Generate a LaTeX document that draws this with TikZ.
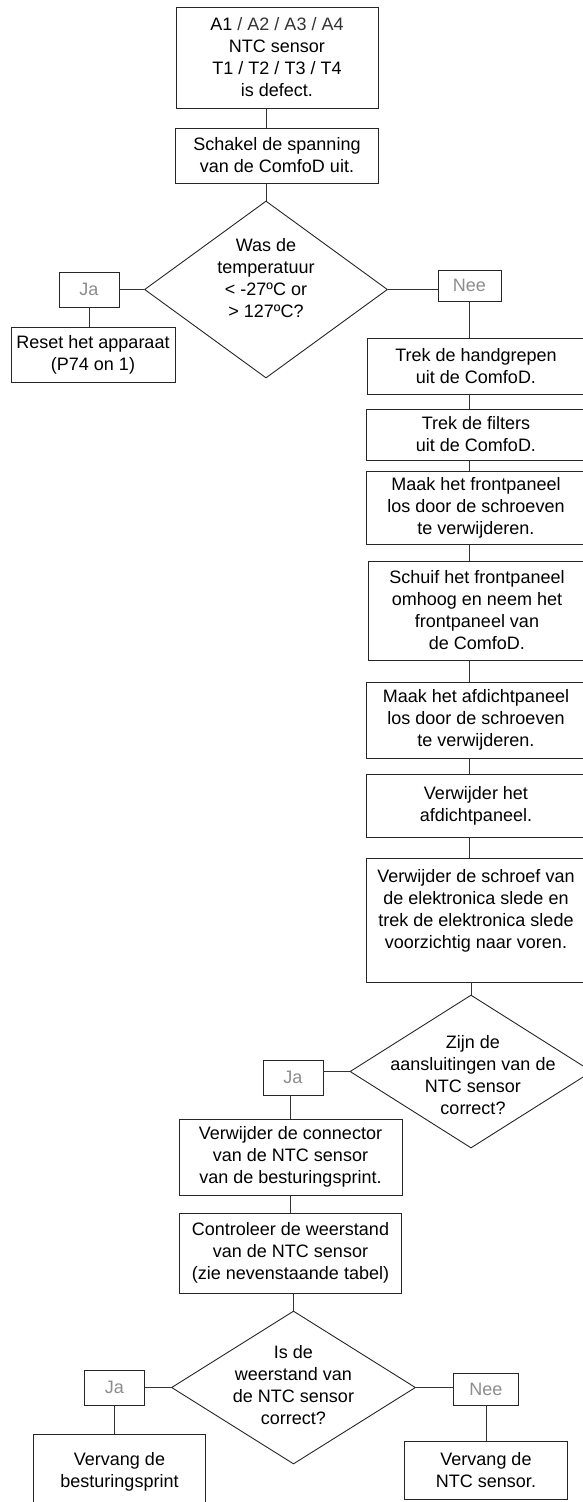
\documentclass[tikz,border=0pt]{standalone}
\usepackage{fontspec}
\setmainfont{Liberation Sans}
\usetikzlibrary{shapes.geometric}

\begin{document}
\begin{tikzpicture}[x=1pt, y=-1pt,
    block/.style={draw=black!85, rectangle, line width=0.9pt, inner sep=0pt, text centered, align=center, font=\fontsize{18}{22}\selectfont},
    answer/.style={block, text=black!45, minimum width=60pt, minimum height=35pt},
    decision/.style={draw=black!85, diamond, line width=0.9pt, inner sep=0pt, minimum width=243pt},
    qtext/.style={align=center, inner sep=0pt, font=\fontsize{18}{22}\selectfont},
    link/.style={draw=black!80, line width=0.9pt}]
    \useasboundingbox (0,0) rectangle (583,1502);

    \node[block, minimum width=202pt, minimum height=101pt] (defect) at (277,57.5) {A1 \textcolor{black!80}{/ A2 / A3 / A4}\\NTC sensor\\T1 / T2 / T3 / T4\\is defect.};
    \node[block, below of=defect, node distance=98pt, minimum width=203pt, minimum height=55pt] (power) {Schakel de spanning\\van de ComfoD uit.};
    \node[decision, below of=power, node distance=134pt, xshift=-11pt, minimum height=177pt] (temp) {};
    \node[qtext] (temptxt) at ([yshift=11.5pt]temp.center) {Was de\\temperatuur\\< -27ºC or\\> 127ºC?};
    \node[answer, left of=temp, node distance=177pt] (tempja) {Ja};
    \node[block, below of=tempja, node distance=65pt, xshift=4pt, minimum width=164pt, minimum height=55pt] (reset) {Reset het apparaat\\(P74 on 1)};
    \node[answer, right of=temp, node distance=203.5pt, yshift=4pt, minimum width=63pt, minimum height=31pt] (tempnee) {Nee};

    \node[block, below of=tempnee, node distance=80.5pt, xshift=6.5pt, minimum width=218pt, minimum height=56pt] (grips) {Trek de handgrepen\\uit de ComfoD.};
    \node[block, below of=grips, node distance=68.5pt, minimum width=219pt, minimum height=51pt] (filters) {Trek de filters\\uit de ComfoD.};
    \node[block, below of=filters, node distance=73pt, minimum width=219pt, minimum height=73pt] (front) {Maak het frontpaneel\\los door de schroeven\\te verwijderen.};
    \node[block, below of=front, node distance=103pt, xshift=1pt, minimum width=217pt, minimum height=99pt] (slide) {Schuif het frontpaneel\\omhoog en neem het\\frontpaneel van\\de ComfoD.};
    \node[block, below of=slide, node distance=109.5pt, xshift=-1pt, minimum width=219pt, minimum height=76pt] (seal) {Maak het afdichtpaneel\\los door de schroeven\\te verwijderen.};
    \node[block, below of=seal, node distance=85.5pt, minimum width=219pt, minimum height=63pt] (sealoff) {Verwijder het\\afdichtpaneel.};
    \node[block, below of=sealoff, node distance=114.5pt, minimum width=219pt, minimum height=124pt] (tray) {Verwijder de schroef van\\de elektronica slede en\\trek de elektronica slede\\voorzichtig naar voren.\\ \mbox{}};

    \node[decision, below of=tray, node distance=151.5pt, xshift=-5pt, minimum width=242pt, minimum height=153pt] (wiring) {};
    \node[qtext] (wiringtxt) at ([xshift=2pt, yshift=-4pt]wiring.center) {Zijn de\\aansluitingen van de\\NTC sensor\\correct?};
    \node[answer, left of=wiring, node distance=178pt, yshift=-6pt] (wiringja) {Ja};
    \node[block, below of=wiringja, node distance=79.5pt, xshift=-2.5pt, minimum width=223pt, minimum height=76pt] (unplug) {Verwijder de connector\\van de NTC sensor\\van de besturingsprint.};
    \node[block, below of=unplug, node distance=96pt, minimum width=222pt, minimum height=80pt] (measure) {Controleer de weerstand\\van de NTC sensor\\(zie nevenstaande tabel)};

    \node[decision, below of=measure, node distance=134.5pt, xshift=3pt, minimum width=244pt, minimum height=153pt] (ohm) {};
    \node[qtext] (ohmtxt) at ([yshift=2.5pt]ohm.center) {Is de\\weerstand van\\de NTC sensor\\correct?};
    \node[answer, left of=ohm, node distance=179pt] (ohmja) {Ja};
    \node[answer, right of=ohm, node distance=192.5pt, yshift=-1.5pt, minimum width=65pt, minimum height=32pt] (ohmnee) {Nee};
    \node[block, below of=ohmja, node distance=84.5pt, xshift=5pt, minimum width=172pt, minimum height=76pt] (board) {Vervang de\\besturingsprint};
    \node[block, below of=ohmnee, node distance=81pt, minimum width=163pt, minimum height=58pt] (sensor) {Vervang de\\NTC sensor.};

    \draw[link] (defect.south -| temp.north) -- (power.north -| temp.north);
    \draw[link] (power.south -| temp.north) -- (temp.north);
    \draw[link] (temp.west) -- (tempja.east);
    \draw[link] (tempja.south) -- (tempja.south |- reset.north);
    \draw[link] (temp.east) -- (temp.east -| tempnee.west);
    \draw[link] (tempnee.south) -- (tempnee.south |- grips.north);
    \draw[link] (grips.south -| tempnee.south) -- (filters.north -| tempnee.south);
    \draw[link] (filters.south -| tempnee.south) -- (front.north -| tempnee.south);
    \draw[link] (front.south -| tempnee.south) -- (slide.north -| tempnee.south);
    \draw[link] (slide.south -| tempnee.south) -- (seal.north -| tempnee.south);
    \draw[link] (seal.south -| tempnee.south) -- (sealoff.north -| tempnee.south);
    \draw[link] (sealoff.south -| tempnee.south) -- (tray.north -| tempnee.south);
    \draw[link] (tray.south -| wiring.north) -- (wiring.north);
    \draw[link] (wiring.west) -- (wiring.west -| wiringja.east);
    \draw[link] (wiringja.south -| unplug.north) -- (unplug.north);
    \draw[link] (unplug.south) -- (unplug.south |- measure.north);
    \draw[link] (measure.south -| ohm.north) -- (ohm.north);
    \draw[link] (ohm.west) -- (ohm.west -| ohmja.east);
    \draw[link] (ohm.east) -- (ohm.east -| ohmnee.west);
    \draw[link] (ohmja.south) -- (ohmja.south |- board.north);
    \draw[link] (ohmnee.south) -- (ohmnee.south |- sensor.north);
\end{tikzpicture}
\end{document}
